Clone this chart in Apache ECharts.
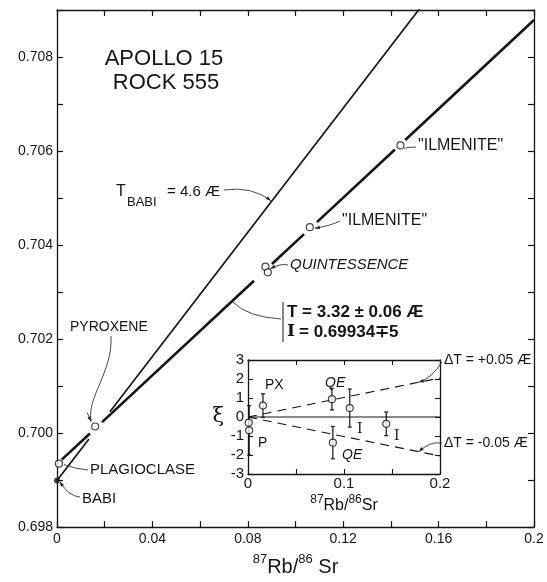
<!DOCTYPE html>
<html>
<head>
<meta charset="utf-8">
<script src="https://cdn.jsdelivr.net/npm/echarts@6/dist/echarts.min.js"></script>
<style>
  html, body { margin: 0; padding: 0; background: #fff; }
  #chart { width: 547px; height: 582px; }
</style>
</head>
<body>
<div id="chart"></div>
<script>
// Rb-Sr evolution diagram for Apollo 15 rock 555 with a deviation inset.

// Model parameters (ages in years)
const DECAY_CONST = 1.39e-11;
const AGE_BABI = 4.6e9;
const BABI_RATIO = 0.69899;
const ISOCHRON_AGE = 3.32e9;
const ISOCHRON_INITIAL = 0.69934;
const AGE_SHIFT = 0.05e9;

// Mineral separates
const MINERALS = ['PLAGIOCLASE', 'PYROXENE', 'QUINTESSENCE', 'QUINTESSENCE', '"ILMENITE"', '"ILMENITE"'];
const RB_SR = [0.0008, 0.0160, 0.0874, 0.0884, 0.1060, 0.1440];
const SR_SR = [0.69935, 0.70014, 0.70354, 0.70342, 0.70438, 0.70612];

// Deviations from the isochron, parts in 10^4
const XI_NAMES = ['P', 'P', 'PX', 'QE', 'QE', 'I', 'I'];
const XI_RB_SR = [0.0008, 0.0012, 0.0156, 0.0874, 0.0884, 0.1060, 0.1440];
const XI_VALUES = [-0.3, -0.7, 0.6, 0.94, -1.35, 0.47, -0.36];
const XI_ERRORS = [0, 1.3, 0.62, 0.57, 0.85, 1.0, 0.62];

// Tick labels
const X_TICK_LABELS = ['0', '0.04', '0.08', '0.12', '0.16', '0.2'];
const Y_TICK_LABELS = ['0.698', '0.700', '0.702', '0.704', '0.706', '0.708'];
const XI_TICK_LABELS = ['-3', '-2', '-1', '0', '1', '2', '3'];
const XI_X_TICK_LABELS = ['0', '0.1', '0.2'];

// Rb/Sr ranges where the evolution lines are inked (open around the circles)
const BABI_LINE_SPANS = [[0, 0.0134], [0.0222, 0.16]];
const ISOCHRON_SPANS = [[0.002, 0.0138], [0.0189, 0.0826], [0.0901, 0.1036], [0.109, 0.1417], [0.146, 0.2]];
const INSET_SPAN = [0, 0.2];

const isoSlope = Math.exp(DECAY_CONST * ISOCHRON_AGE) - 1;
const babiSlope = Math.exp(DECAY_CONST * AGE_BABI) - 1;
const isoY = x => ISOCHRON_INITIAL + isoSlope * x;
const babiY = x => BABI_RATIO + babiSlope * x;
// ξ of an isochron whose age is shifted by dT
const shiftedXi = (x, dT) =>
  x * (Math.exp(DECAY_CONST * (ISOCHRON_AGE + dT)) - Math.exp(DECAY_CONST * ISOCHRON_AGE)) / isoY(x) * 1e4;

const INK = '#151515';
const FONT = '"Liberation Sans", Arial, sans-serif';

const pick = (labels) => (v) => {
  const hit = labels.find(l => Math.abs(parseFloat(l) - v) < 1e-9);
  return hit === undefined ? '' : hit;
};

const axisBase = {
  type: 'value',
  axisLine: { show: true, onZero: false, lineStyle: { color: INK, width: 1.3 } },
  axisTick: { show: true, inside: true, length: 6, lineStyle: { color: INK, width: 1.2 } },
  splitLine: { show: false },
  axisLabel: { color: INK, fontFamily: FONT, fontSize: 14 }
};
const ax = (extra) => Object.assign({}, axisBase, extra, {
  axisLabel: Object.assign({}, axisBase.axisLabel, extra.axisLabel || {})
});

const segSeries = (spans, f, width) => spans.map(([a, b]) => ({
  type: 'line', xAxisIndex: 0, yAxisIndex: 0, data: [[a, f(a)], [b, f(b)]],
  symbol: 'none', lineStyle: { color: INK, width }, clip: true, silent: true, z: 2
}));

const richName = (big, small) => ({
  rich: {
    s: { fontSize: small, fontFamily: FONT, color: INK, verticalAlign: 'top', lineHeight: big + 4, padding: [0, 0, 0, 0] },
    b: { fontSize: big, fontFamily: FONT, color: INK, verticalAlign: 'bottom', lineHeight: big + 4, padding: [6, 0, 0, 0] }
  }
});

const option = {
  animation: false,
  backgroundColor: '#fff',
  grid: [
    { left: 57, right: 13, top: 10, bottom: 49 },
    { left: 248, right: 107, top: 360, bottom: 108, show: true, backgroundColor: '#fff', borderWidth: 0 }
  ],
  xAxis: [
    ax({ gridIndex: 0, min: 0, max: 0.2, interval: 0.02, position: 'bottom',
         axisLabel: { formatter: pick(X_TICK_LABELS), margin: 5 },
         name: '{s|87}{b|Rb/}{s|86}{b| Sr}', nameLocation: 'middle', nameGap: 19,
         nameTextStyle: richName(20, 13) }),
    ax({ gridIndex: 0, min: 0, max: 0.2, interval: 0.02, position: 'top', axisLabel: { show: false } }),
    ax({ gridIndex: 1, min: 0, max: 0.2, interval: 0.05, position: 'bottom',
         axisTick: { show: true, inside: true, length: 5, lineStyle: { color: INK, width: 1.1 } },
         axisLabel: { formatter: pick(XI_X_TICK_LABELS), margin: 2, fontSize: 15 },
         name: '{s|87}{b|Rb/}{s|86}{b|Sr}', nameLocation: 'middle', nameGap: 19,
         nameTextStyle: richName(16, 12) }),
    ax({ gridIndex: 1, min: 0, max: 0.2, interval: 0.05, position: 'top',
         axisTick: { show: true, inside: true, length: 5, lineStyle: { color: INK, width: 1.1 } },
         axisLabel: { show: false } })
  ],
  yAxis: [
    ax({ gridIndex: 0, min: 0.698, max: 0.709, interval: 0.001, position: 'left',
         axisLabel: { formatter: pick(Y_TICK_LABELS), margin: 4 } }),
    ax({ gridIndex: 0, min: 0.698, max: 0.709, interval: 0.001, position: 'right', axisLabel: { show: false } }),
    ax({ gridIndex: 1, min: -3, max: 3, interval: 1, position: 'left',
         axisTick: { show: true, inside: true, length: 5, lineStyle: { color: INK, width: 1.1 } },
         axisLabel: { formatter: pick(XI_TICK_LABELS), margin: 4, fontSize: 15 },
         name: 'ξ', nameLocation: 'middle', nameRotate: 0, nameGap: 24,
         nameTextStyle: { fontSize: 21, fontFamily: '"DejaVu Serif", serif', color: INK } }),
    ax({ gridIndex: 1, min: -3, max: 3, interval: 1, position: 'right',
         axisTick: { show: true, inside: true, length: 5, lineStyle: { color: INK, width: 1.1 } },
         axisLabel: { show: false } })
  ],
  series: [
    ...segSeries(BABI_LINE_SPANS, babiY, 1.7),
    ...segSeries(ISOCHRON_SPANS, isoY, 2.6),
    {
      id: 'minerals', type: 'scatter', xAxisIndex: 0, yAxisIndex: 0,
      data: RB_SR.map((x, i) => ({ value: [x, SR_SR[i]], name: MINERALS[i] })),
      symbol: 'circle', symbolSize: 7,
      itemStyle: { color: '#fff', borderColor: INK, borderWidth: 1.2 }, z: 5
    },
    {
      id: 'babi', type: 'scatter', xAxisIndex: 0, yAxisIndex: 0,
      data: [[0, BABI_RATIO]], symbol: 'circle', symbolSize: 6,
      itemStyle: { color: INK }, z: 5
    },
    // inset: reference isochron and ±ΔT lines
    {
      id: 'inset0', type: 'line', xAxisIndex: 2, yAxisIndex: 2,
      data: INSET_SPAN.map(x => [x, 0]), symbol: 'none',
      lineStyle: { color: INK, width: 1.2 }, silent: true
    },
    ...[AGE_SHIFT, -AGE_SHIFT].map(dT => ({
      type: 'line', xAxisIndex: 2, yAxisIndex: 2,
      data: INSET_SPAN.map(x => [x, shiftedXi(x, dT)]), symbol: 'none',
      lineStyle: { color: INK, width: 1.1, type: [9, 6] }, silent: true
    })),
    {
      type: 'custom', xAxisIndex: 2, yAxisIndex: 2,
      data: XI_RB_SR.map((x, i) => [x, XI_VALUES[i] - XI_ERRORS[i], XI_VALUES[i] + XI_ERRORS[i]]),
      encode: { x: 0, y: [1, 2] },
      renderItem: (params, api) => {
        const x = api.value(0);
        const lo = api.coord([x, api.value(1)]);
        const hi = api.coord([x, api.value(2)]);
        if (Math.abs(hi[1] - lo[1]) < 0.5) return null;
        const st = { stroke: INK, lineWidth: 1.2 };
        return {
          type: 'group', children: [
            { type: 'line', shape: { x1: lo[0], y1: lo[1], x2: hi[0], y2: hi[1] }, style: st },
            { type: 'line', shape: { x1: lo[0] - 2, y1: lo[1], x2: lo[0] + 2, y2: lo[1] }, style: st },
            { type: 'line', shape: { x1: hi[0] - 2, y1: hi[1], x2: hi[0] + 2, y2: hi[1] }, style: st }
          ]
        };
      },
      z: 3
    },
    {
      id: 'xi', type: 'scatter', xAxisIndex: 2, yAxisIndex: 2,
      data: XI_RB_SR.map((x, i) => ({ value: [x, XI_VALUES[i]], name: XI_NAMES[i] })),
      symbol: 'circle', symbolSize: 7,
      itemStyle: { color: '#fff', borderColor: INK, borderWidth: 1.2 }, z: 5
    }
  ]
};

const chart = echarts.init(document.getElementById('chart'), null, { renderer: 'canvas' });
chart.setOption(option);

// ---- annotations -------------------------------------------------------
const toMain = (x, y) => chart.convertToPixel({ seriesId: 'minerals' }, [x, y]);
const toInset = (x, y) => chart.convertToPixel({ seriesId: 'xi' }, [x, y]);

const text = (t, x, y, font, align) => ({
  type: 'text', x, y, z: 20, silent: true,
  style: { text: t, font: font || ('15px ' + FONT), fill: INK, textAlign: align || 'left', textVerticalAlign: 'middle' }
});
const leader = (x1, y1, cx, cy, x2, y2, arrow) => {
  const items = [{
    type: 'bezierCurve', z: 18, silent: true,
    shape: { x1, y1, x2, y2, cpx1: cx, cpy1: cy },
    style: { stroke: '#333', lineWidth: 0.9, fill: null }
  }];
  if (arrow) {
    const dx = x2 - cx, dy = y2 - cy, len = Math.hypot(dx, dy) || 1;
    const ux = dx / len, uy = dy / len, L = 5, W = 1.8;
    items.push({
      type: 'polygon', z: 18, silent: true,
      shape: { points: [[x2, y2], [x2 - ux * L - uy * W, y2 - uy * L + ux * W], [x2 - ux * L + uy * W, y2 - uy * L - ux * W]] },
      style: { fill: '#222' }
    });
  }
  return items;
};

const pts = RB_SR.map((x, i) => toMain(x, SR_SR[i]));
const babiPt = toMain(0, BABI_RATIO);
const babiTarget = toMain(0.0905, babiY(0.0905));
const isoTarget = toMain(0.0738, isoY(0.0738));
const plusTarget = toInset(0.178, shiftedXi(0.178, AGE_SHIFT));
const minusTarget = toInset(0.178, shiftedXi(0.178, -AGE_SHIFT));

const italic = 'italic 15px ' + FONT;
const graphics = [
  text('APOLLO 15', 164, 59, '22px ' + FONT, 'center'),
  text('ROCK 555', 166, 83, '22px ' + FONT, 'center'),

  text('T', 116, 192, '16px ' + FONT),
  text('BABI', 127, 202, '13px ' + FONT),
  text('= 4.6 Æ', 167, 192, '15px ' + FONT),
  ...leader(224, 190, 252, 186, babiTarget[0] - 2, babiTarget[1] + 1, true),

  text('PYROXENE', 70, 327, '14px ' + FONT),
  {
    type: 'bezierCurve', z: 18, silent: true,
    shape: { x1: 111, y1: 336, cpx1: 113, cpy1: 372, cpx2: 86, cpy2: 398, x2: pts[1][0] - 4, y2: pts[1][1] - 5 },
    style: { stroke: '#333', lineWidth: 0.9, fill: null }
  },
  ...leader(pts[1][0] - 8, pts[1][1] - 14, pts[1][0] - 6, pts[1][1] - 9, pts[1][0] - 4, pts[1][1] - 5, true),

  text('PLAGIOCLASE', 90, 470, '15px ' + FONT),
  ...leader(88, 470, 76, 469, pts[0][0] + 5, pts[0][1] + 1, false),

  text('BABI', 82, 499, '15px ' + FONT),
  ...leader(80, 497, 68, 496, babiPt[0] + 3, babiPt[1] + 1, true),

  text('QUINTESSENCE', 290, 265, italic),
  ...leader(288, 265, 281, 263, pts[2][0] + 5, pts[2][1] + 2, true),

  text(MINERALS[4], 342, 221, '16px ' + FONT),
  ...leader(340, 221, 330, 226, pts[4][0] + 5, pts[4][1] + 1, true),
  text(MINERALS[5], 418, 146, '16px ' + FONT),
  ...leader(416, 147, 408, 147, pts[5][0] + 4, pts[5][1] + 3, false),

  // age / initial ratio box
  { type: 'line', z: 18, silent: true, shape: { x1: 283, y1: 302, x2: 283, y2: 342 }, style: { stroke: INK, lineWidth: 1 } },
  text('T = 3.32 ± 0.06 Æ', 287, 312, 'bold 17px ' + FONT),
  text('I', 287, 332, 'bold 17px "DejaVu Serif", serif'),
  text('= 0.69934∓5', 299, 332, 'bold 17px ' + FONT),
  ...leader(isoTarget[0], isoTarget[1] + 2, 248, 317, 281, 319, false),

  // inset annotations
  text('PX', 265, 385, '14px ' + FONT),
  text('QE', 325, 383, 'italic 14px ' + FONT),
  text('QE', 342, 455, 'italic 14px ' + FONT),
  text('I', 357, 429, '14px "DejaVu Serif", serif'),
  text('I', 394, 436, '14px "DejaVu Serif", serif'),
  text('P', 258, 443, '14px ' + FONT),
  text('ΔT = +0.05 Æ', 444, 360, '14px ' + FONT),
  ...leader(442, 362, 432, 378, plusTarget[0], plusTarget[1], true),
  text('ΔT = -0.05 Æ', 444, 443, '14px ' + FONT),
  ...leader(442, 443, 430, 441, minusTarget[0], minusTarget[1], true)
];

chart.setOption({ graphic: graphics });
</script>
</body>
</html>
